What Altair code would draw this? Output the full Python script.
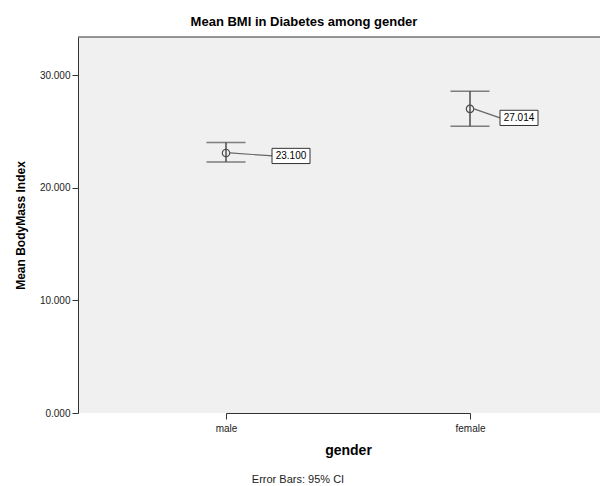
import altair as alt
import pandas as pd

genders = ["male", "female"]
means = [23.100, 27.014]
ci_lower = [22.30, 25.47]
ci_upper = [24.02, 28.57]
y_ticks = [0, 10, 20, 30]
footnote = ["Error Bars: 95% CI"]

df = pd.DataFrame({"gender": genders, "mean": means, "lo": ci_lower, "hi": ci_upper})
note_df = pd.DataFrame({"t": footnote})

W, H = 522, 376
FONT = "Liberation Sans"
LINE = "#4d4d4d"

xscale = alt.Scale(type="point", range=[148, 392], padding=0)
xaxis = alt.Axis(
    title="gender", titleFontSize=14, titleFontWeight="bold", titleFont=FONT,
    titleColor="#000", titlePadding=10, labelFontSize=10, labelFont=FONT,
    labelColor="#222", labelAngle=0, labelPadding=4, tickSize=6,
    tickColor="#333", domainColor="#333", labelFlush=False,
)

def X():
    return alt.X("gender:N", sort=genders, scale=xscale, axis=xaxis)

def X2():
    return alt.X2("gender:N")

yscale = alt.Scale(domain=[0, 33.4], nice=False, zero=True)
yaxis = alt.Axis(
    title="Mean BodyMass Index", titleFontSize=12, titleFontWeight="bold",
    titleFont=FONT, titleColor="#000", titlePadding=12, values=y_ticks,
    format=".3f", labelFontSize=10, labelFont=FONT, labelColor="#222",
    labelPadding=2, tickSize=6, tickColor="#333", domainColor="#333", grid=False,
)

def Y(field):
    return alt.Y(field, scale=yscale, axis=yaxis)

base = alt.Chart(df)

bars = base.mark_rule(color=LINE, strokeWidth=1.5).encode(
    x=X(), y=Y("lo:Q"), y2="hi:Q"
)
cap_lo = base.mark_tick(color=LINE, size=39, thickness=1.5, orient="horizontal").encode(
    x=X(), y=Y("lo:Q")
)
cap_hi = base.mark_tick(color=LINE, size=39, thickness=1.5, orient="horizontal").encode(
    x=X(), y=Y("hi:Q")
)
circles = base.mark_point(shape="circle", filled=False, size=55, color=LINE, strokeWidth=1.2, opacity=1).encode(
    x=X(), y=Y("mean:Q")
)

BOX = "M-1,-0.4L1,-0.4L1,0.4L-1,0.4Z"

def label_layers(g, dx_end, dy_end, cx, cy):
    sub = base.transform_filter(alt.datum.gender == g)
    lead = sub.mark_rule(color="#666", strokeWidth=1.2, xOffset=4, x2Offset=dx_end, y2Offset=dy_end).encode(
        x=X(), x2=X2(), y=Y("mean:Q"), y2="mean:Q"
    )
    box = sub.mark_point(shape=BOX, size=38 * 38, fill="white", fillOpacity=1, stroke="#333",
                         strokeWidth=1, opacity=1, xOffset=cx, yOffset=cy).encode(
        x=X(), y=Y("mean:Q")
    )
    txt = sub.mark_text(font=FONT, fontSize=10, color="#000", dx=cx, dy=cy, align="center", baseline="middle").encode(
        x=X(), y=Y("mean:Q"), text=alt.Text("mean:Q", format=".3f")
    )
    return [lead, box, txt]

top_border = alt.Chart(note_df).mark_rule(color="#333").encode(
    x=alt.value(0), x2=alt.value(W), y=alt.value(0)
)
note = alt.Chart(note_df).mark_text(font=FONT, fontSize=11, color="#222", align="center", baseline="middle").encode(
    x=alt.value(220), y=alt.value(H + 67), text="t:N"
)

layers = [bars, cap_lo, cap_hi]
layers += label_layers("male", 47, 3, 65, 3)
layers += label_layers("female", 30, 9, 49, 9)
layers += [circles, top_border, note]

chart = alt.layer(*layers).properties(
    width=W, height=H,
    background="white",
    autosize=alt.AutoSizeParams(type="none"),
    padding={"left": 70, "top": 29, "right": 0, "bottom": 72},
    title=alt.Title("Mean BMI in Diabetes among gender", font=FONT, fontSize=13,
                    fontWeight="bold", color="#000", anchor="middle", frame="group",
                    dx=-35, offset=8),
).configure_view(fill="#f0f0f0", stroke=None)

chart.save("out.html", embed_options={"renderer": "svg", "actions": False})
